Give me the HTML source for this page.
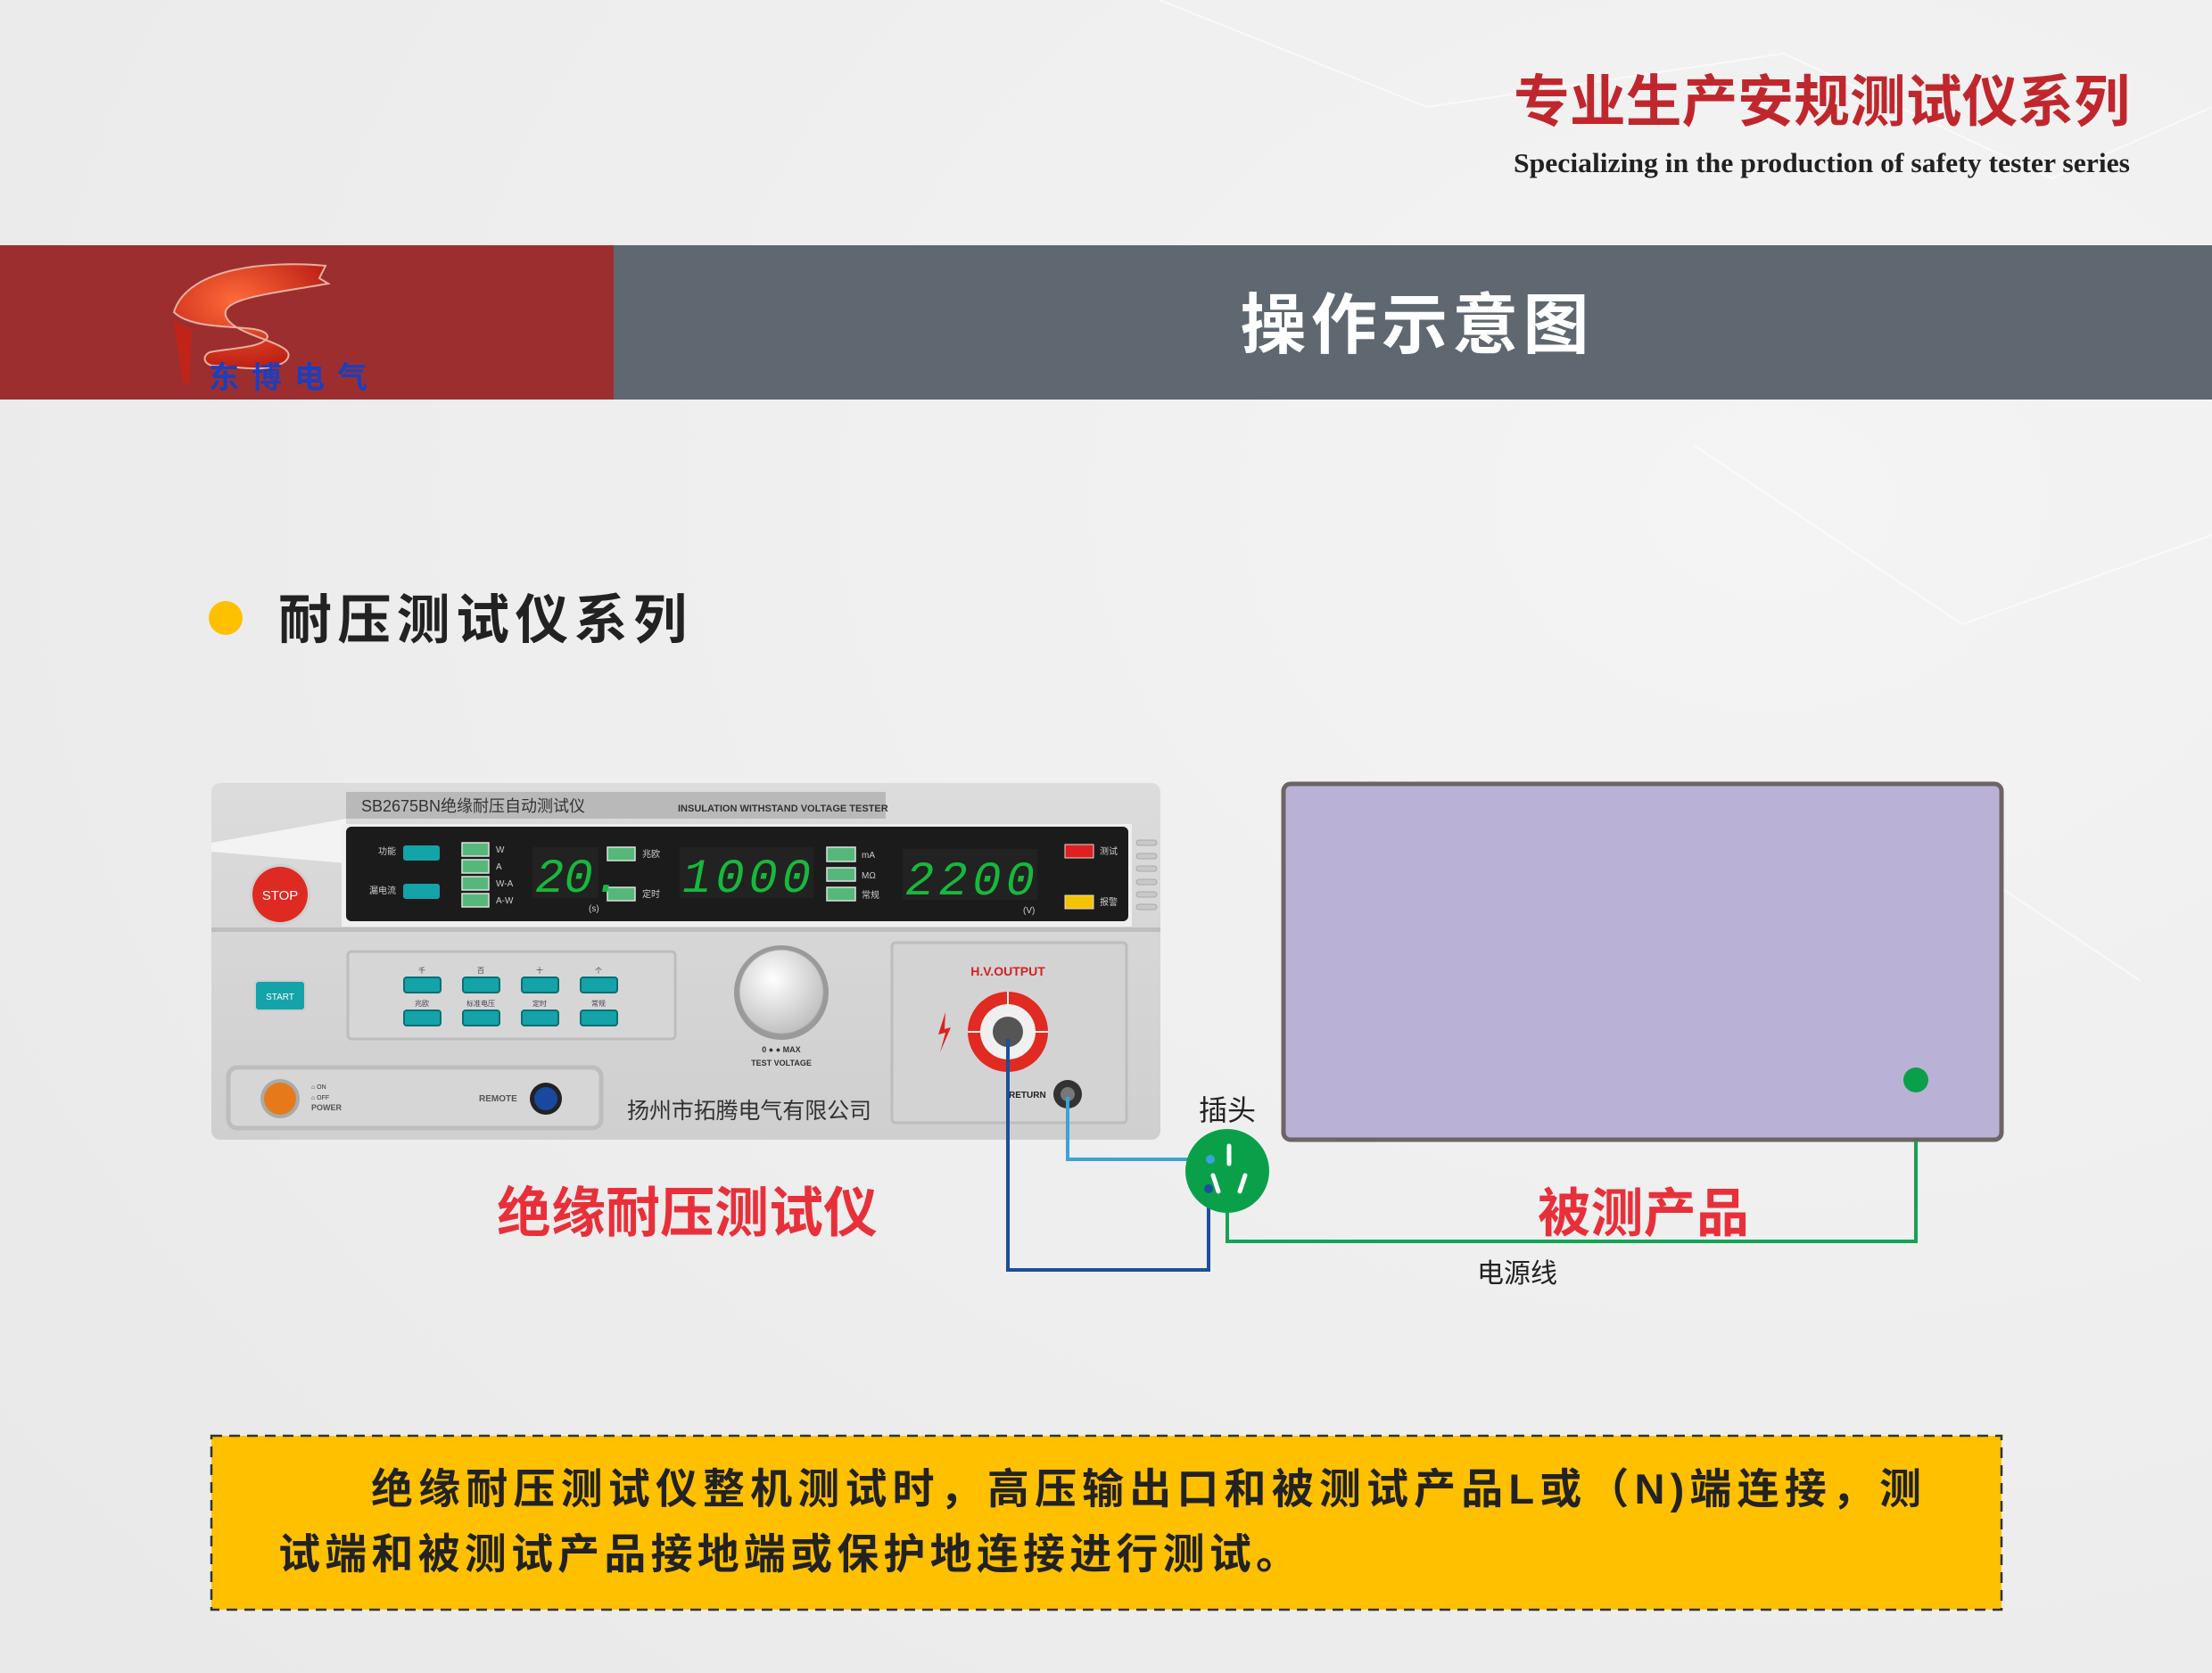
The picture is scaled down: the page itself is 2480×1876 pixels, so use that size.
<!DOCTYPE html>
<html><head><meta charset="utf-8"><style>
html,body{margin:0;padding:0;background:#eeeeee;}
svg{display:block}
text{font-family:"Liberation Sans","Noto Sans CJK SC",sans-serif;}
</style></head><body>
<svg width="2480" height="1876" viewBox="0 0 2480 1876" xmlns="http://www.w3.org/2000/svg">
<defs>
<radialGradient id="bg" cx="0.8" cy="0.3" r="1"><stop offset="0" stop-color="#f4f4f4"/><stop offset="1" stop-color="#e9e9e9"/></radialGradient>
<linearGradient id="pan" x1="0" y1="0" x2="0" y2="1"><stop offset="0" stop-color="#dcdcdc"/><stop offset="1" stop-color="#cfcfcf"/></linearGradient>
<radialGradient id="knob" cx="0.4" cy="0.35" r="0.7"><stop offset="0" stop-color="#ffffff"/><stop offset="1" stop-color="#bdbdbd"/></radialGradient>
<radialGradient id="logo" cx="0.4" cy="0.35" r="0.7"><stop offset="0" stop-color="#ff6a3a"/><stop offset="1" stop-color="#b81a10"/></radialGradient>
</defs>
<rect width="2480" height="1876" fill="url(#bg)"/>
<g stroke="#ffffff" stroke-width="2" opacity="0.6" fill="none">
<path d="M1300 0 L1600 120 L2000 60 L2300 200 L2480 120"/>
<path d="M1900 500 L2200 700 L2480 600 M2100 900 L2400 1100 M2300 300 L2480 450"/>
</g>
<!-- header text -->
<text x="2388" y="136" text-anchor="end" font-size="63" font-weight="bold" fill="#c0272d" textLength="691" lengthAdjust="spacingAndGlyphs">专业生产安规测试仪系列</text>
<text x="2388" y="193" text-anchor="end" font-size="31" font-weight="bold" fill="#222" style="font-family:'Liberation Serif',serif" textLength="691" lengthAdjust="spacingAndGlyphs">Specializing in the production of safety tester series</text>
<!-- banner -->
<rect x="0" y="275" width="688" height="173" fill="#9d2e30"/>
<rect x="688" y="275" width="1792" height="173" fill="#5f6770"/>
<path d="M195 350 C210 300 300 292 365 298 L358 312 L368 318 C300 330 240 335 255 358 C270 380 340 385 320 405 C300 420 260 410 240 410 C230 410 225 400 235 395 C260 390 295 390 300 378 C300 360 220 375 195 350 Z" fill="url(#logo)" stroke="#e8b0a0" stroke-width="2"/>
<path d="M195 360 L215 370 L212 430 L205 430 Z" fill="#c02418"/>
<text x="234" y="435" font-size="34" font-weight="bold" fill="#1a3fc0" letter-spacing="14">东博电气</text>
<text x="1586" y="390" text-anchor="middle" font-size="74" font-weight="bold" fill="#ffffff" textLength="391" lengthAdjust="spacing">操作示意图</text>
<!-- section title -->
<circle cx="253" cy="693" r="19" fill="#ffc000"/>
<text x="312" y="716" font-size="60" font-weight="bold" fill="#222" textLength="458" lengthAdjust="spacing">耐压测试仪系列</text>
<!-- instrument -->
<rect x="237" y="878" width="1064" height="400" rx="10" fill="url(#pan)"/>
<path d="M237 945 L388 918 L388 968 L237 955 Z" fill="#f3f3f3"/>
<rect x="388" y="888" width="605" height="30" fill="#b9b9b9"/>
<text x="405" y="910" font-size="18" fill="#333">SB2675BN绝缘耐压自动测试仪</text>
<text x="760" y="910" font-size="11" font-weight="bold" fill="#333">INSULATION  WITHSTAND VOLTAGE TESTER</text>
<rect x="383" y="924" width="886" height="115" fill="#efefef"/>
<rect x="388" y="927" width="877" height="106" rx="6" fill="#1b1b1b"/>
<rect x="237" y="1040" width="1064" height="5" fill="#bdbdbd"/>
<!-- display -->
<text x="424" y="958" font-size="10" fill="#ccc">功能</text>
<text x="414" y="1002" font-size="10" fill="#ccc">漏电流</text>
<rect x="452" y="948" width="41" height="17" rx="3" fill="#14a3a8"/>
<rect x="452" y="991" width="41" height="17" rx="3" fill="#14a3a8"/>
<g fill="#55b87a" stroke="#e0e0e0" stroke-width="1.5">
<rect x="518" y="945" width="30" height="15"/><rect x="518" y="964" width="30" height="15"/><rect x="518" y="983" width="30" height="15"/><rect x="518" y="1002" width="30" height="15"/>
<rect x="681" y="950" width="31" height="15"/><rect x="681" y="995" width="31" height="15"/>
<rect x="927" y="950" width="32" height="16"/><rect x="927" y="973" width="32" height="15"/><rect x="927" y="995" width="32" height="15"/>
</g>
<g font-size="10" fill="#ccc">
<text x="556" y="956">W</text><text x="556" y="975">A</text><text x="556" y="994">W-A</text><text x="556" y="1013">A-W</text>
<text x="720" y="961">兆欧</text><text x="720" y="1006">定时</text>
<text x="966" y="962">mA</text><text x="966" y="985">MΩ</text><text x="966" y="1007">常规</text>
<text x="660" y="1022">(s)</text><text x="1147" y="1024">(V)</text>
<text x="1233" y="958">测试</text><text x="1233" y="1015">报警</text>
</g>
<rect x="597" y="950" width="74" height="57" fill="#222"/>
<rect x="762" y="950" width="150" height="57" fill="#222"/>
<rect x="1012" y="952" width="151" height="57" fill="#222"/>
<g font-family="Liberation Mono,monospace" font-size="54" fill="#18b83c" font-style="italic">
<text x="600" y="1000" style="font-family:'Liberation Mono',monospace">20.</text>
<text x="765" y="1000" style="font-family:'Liberation Mono',monospace" textLength="144">1000</text>
<text x="1015" y="1003" style="font-family:'Liberation Mono',monospace" textLength="145">2200</text>
</g>
<rect x="1194" y="947" width="32" height="15" fill="#e02020" stroke="#ddd"/>
<rect x="1194" y="1004" width="32" height="15" fill="#f5c400" stroke="#ddd"/>
<g fill="#c8c8c8" stroke="#aaa"><rect x="1274" y="942" width="23" height="6" rx="3"/><rect x="1274" y="957" width="23" height="6" rx="3"/><rect x="1274" y="971" width="23" height="6" rx="3"/><rect x="1274" y="986" width="23" height="6" rx="3"/><rect x="1274" y="1000" width="23" height="6" rx="3"/><rect x="1274" y="1014" width="23" height="6" rx="3"/></g>
<circle cx="314" cy="1003" r="34" fill="#cfcfcf"/>
<circle cx="314" cy="1003" r="31" fill="#de2a22"/>
<text x="314" y="1009" text-anchor="middle" font-size="15" fill="#fff">STOP</text>
<rect x="286" y="1100" width="56" height="33" rx="4" fill="#14a3a8" stroke="#ccc" stroke-width="2"/>
<text x="314" y="1121" text-anchor="middle" font-size="10" fill="#fff">START</text>
<rect x="390" y="1067" width="367" height="98" rx="4" fill="#d6d6d6" stroke="#bdbdbd" stroke-width="3"/>
<g fill="#14a3a8" stroke="#0c6f72" stroke-width="2">
<rect x="453" y="1096" width="41" height="17" rx="3"/><rect x="519" y="1096" width="41" height="17" rx="3"/><rect x="585" y="1096" width="41" height="17" rx="3"/><rect x="651" y="1096" width="41" height="17" rx="3"/>
<rect x="453" y="1133" width="41" height="17" rx="3"/><rect x="519" y="1133" width="41" height="17" rx="3"/><rect x="585" y="1133" width="41" height="17" rx="3"/><rect x="651" y="1133" width="41" height="17" rx="3"/>
</g>
<g font-size="8" fill="#444" text-anchor="middle"><text x="473" y="1091">千</text><text x="539" y="1091">百</text><text x="605" y="1091">十</text><text x="671" y="1091">个</text>
<text x="473" y="1128">兆欧</text><text x="539" y="1128">标准电压</text><text x="605" y="1128">定时</text><text x="671" y="1128">常规</text></g>
<circle cx="876" cy="1113" r="53" fill="#9a9a9a"/>
<circle cx="876" cy="1112" r="47" fill="url(#knob)" stroke="#aaa"/>
<text x="876" y="1180" text-anchor="middle" font-size="9" font-weight="bold" fill="#333">0 ●          ● MAX</text>
<text x="876" y="1195" text-anchor="middle" font-size="9" font-weight="bold" fill="#333">TEST VOLTAGE</text>
<rect x="1000" y="1057" width="263" height="202" rx="4" fill="#d3d3d3" stroke="#bdbdbd" stroke-width="3"/>
<text x="1130" y="1094" text-anchor="middle" font-size="14" font-weight="bold" fill="#d42020">H.V.OUTPUT</text>
<path d="M1060 1135 L1052 1160 L1060 1158 L1054 1180 L1066 1152 L1059 1154 Z" fill="#e02020"/>
<circle cx="1130" cy="1157" r="45" fill="#e02a22"/>
<g stroke="#f0f0f0" stroke-width="2"><line x1="1130" y1="1112" x2="1130" y2="1202"/><line x1="1085" y1="1157" x2="1175" y2="1157"/></g>
<circle cx="1130" cy="1157" r="31" fill="#f0f0f0"/>
<circle cx="1130" cy="1157" r="17" fill="#555"/>
<text x="1131" y="1231" font-size="10" font-weight="bold" fill="#222">RETURN</text>
<circle cx="1197" cy="1227" r="16" fill="#333"/><circle cx="1197" cy="1227" r="8" fill="#777"/>
<rect x="256" y="1197" width="418" height="68" rx="10" fill="#d6d6d6" stroke="#bdbdbd" stroke-width="5"/>
<circle cx="314" cy="1232" r="22" fill="#aaa"/><circle cx="314" cy="1232" r="18" fill="#e67a1a"/>
<text x="349" y="1221" font-size="7" fill="#333">⌂ ON</text><text x="349" y="1233" font-size="7" fill="#333">⌂ OFF</text>
<text x="349" y="1245" font-size="9" font-weight="bold" fill="#555">POWER</text>
<text x="537" y="1235" font-size="10" font-weight="bold" fill="#555">REMOTE</text>
<circle cx="612" cy="1232" r="18" fill="#222"/><circle cx="612" cy="1232" r="13" fill="#1848a0"/>
<text x="703" y="1254" font-size="25" fill="#333" textLength="274" lengthAdjust="spacing">扬州市拓腾电气有限公司</text>
<!-- wires -->
<polyline points="1130,1165 1130,1424 1355,1424 1355,1333" fill="none" stroke="#1a4f9c" stroke-width="4"/>
<polyline points="1197,1230 1197,1300 1357,1300" fill="none" stroke="#3aa3d8" stroke-width="4"/>
<polyline points="1376,1350 1376,1392 2148,1392 2148,1211" fill="none" stroke="#17a056" stroke-width="4"/>
<!-- product -->
<rect x="1439" y="879" width="805" height="399" rx="8" fill="#b9b2d6" stroke="#6d6466" stroke-width="5"/>
<circle cx="2148" cy="1211" r="14" fill="#0aa04a"/>
<!-- plug -->
<circle cx="1376" cy="1313" r="47" fill="#0aa04a"/>
<g stroke="#fff" stroke-width="5" stroke-linecap="round"><line x1="1378" y1="1285" x2="1378" y2="1305"/><line x1="1360" y1="1318" x2="1366" y2="1336"/><line x1="1396" y1="1318" x2="1390" y2="1336"/></g>
<circle cx="1357" cy="1300" r="5" fill="#3aa3d8"/><circle cx="1355" cy="1333" r="5" fill="#1a4f9c"/>
<text x="1344" y="1256" font-size="32" fill="#222">插头</text>
<text x="1656" y="1438" font-size="30" fill="#222">电源线</text>
<text x="557" y="1381" font-size="61" font-weight="bold" fill="#e8303a" textLength="427" lengthAdjust="spacing">绝缘耐压测试仪</text>
<text x="1724" y="1381" font-size="59" font-weight="bold" fill="#e8303a" textLength="237" lengthAdjust="spacing">被测产品</text>
<!-- bottom box -->
<rect x="237" y="1610" width="2007" height="195" fill="#ffc000" stroke="#333" stroke-width="2.5" stroke-dasharray="12 8"/>
<text x="416" y="1686" font-size="47" font-weight="bold" fill="#222" textLength="1738" lengthAdjust="spacing">绝缘耐压测试仪整机测试时，高压输出口和被测试产品L或（N)端连接，测</text>
<text x="312" y="1759" font-size="47" font-weight="bold" fill="#222" textLength="1143" lengthAdjust="spacing">试端和被测试产品接地端或保护地连接进行测试。</text>
</svg>
</body></html>
